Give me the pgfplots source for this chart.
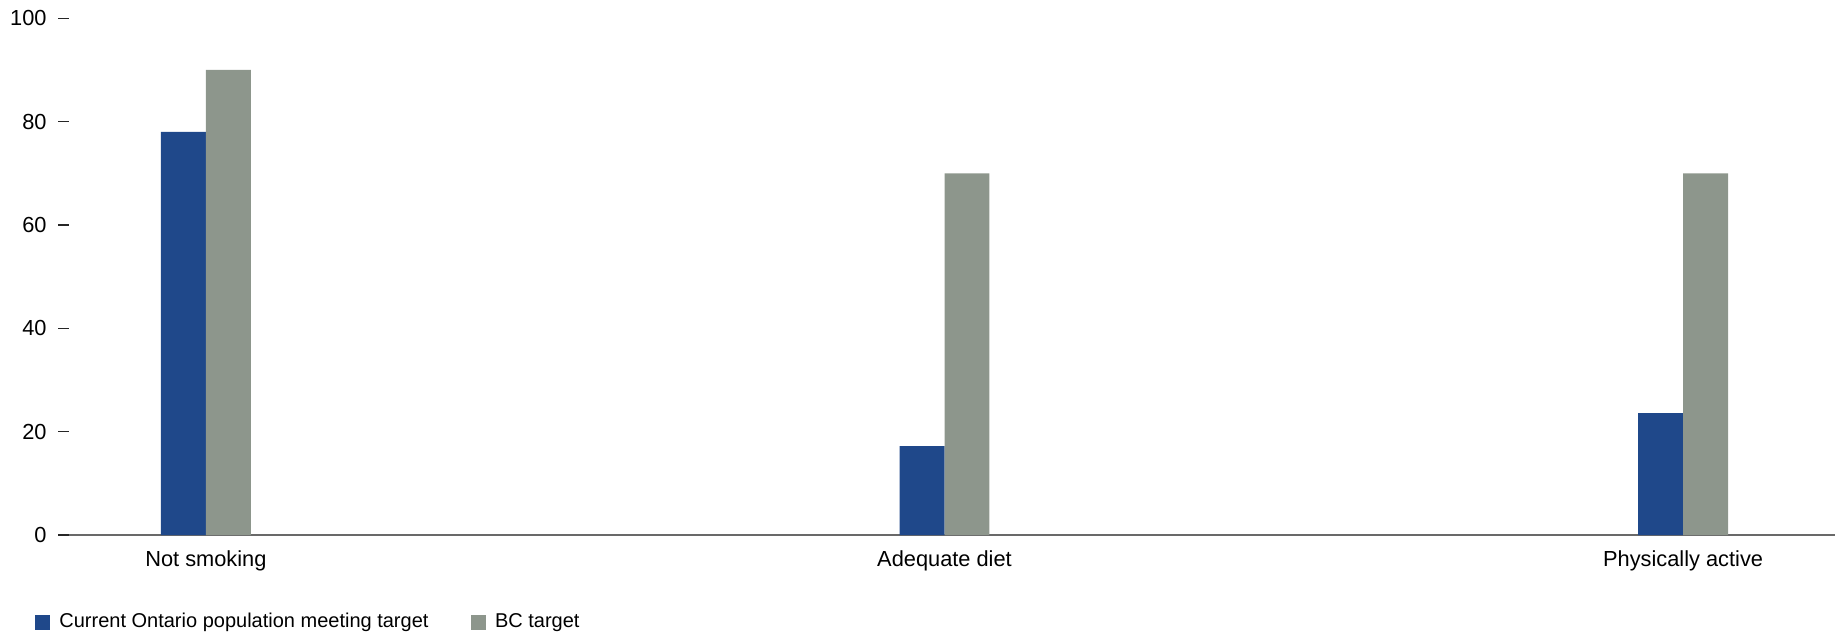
\documentclass[border=0pt]{standalone}
\usepackage{fontspec}
\setmainfont{Liberation Sans}
\usepackage{pgfplots}
\pgfplotsset{compat=1.18}
\definecolor{cblue}{RGB}{31,72,138}
\definecolor{cgray}{RGB}{141,150,140}
\definecolor{cgrid}{RGB}{205,205,205}
\definecolor{cbase}{RGB}{105,105,105}
\begin{document}
\fontsize{10.9}{12}\selectfont
\begin{tikzpicture}
\path[use as bounding box] (0,0) rectangle (919.5pt,317pt);
\begin{axis}[
  at={(34.5pt,49.5pt)}, anchor=south west,
  scale only axis, width=883pt, height=258.35pt,
  xmin=-0.1854, xmax=2.2057, ymin=0, ymax=100,
  xtick={0,1,2}, xticklabels={Not smoking,Adequate diet,Physically active},
  ytick={0,20,40,60,80,100},
  /pgf/number format/assume math mode=true,
  ymajorgrids, grid style={cgrid, line width=0.6pt},
  axis x line*=bottom, axis y line=none,
  x axis line style={cbase, line width=1pt, -},
  major x tick style={draw=none},
  font=\fontsize{10.9}{12}\selectfont,
  tick label style={font=\fontsize{10.9}{12}\selectfont},
  clip=false,
  ybar, bar width=0.0609,
  legend style={at={(-0.0193,-0.169)}, anchor=west, draw=none, fill=none,
    inner sep=0pt, outer sep=0pt, legend columns=-1,
    font=\fontsize{10}{12}\selectfont,
    /tikz/every odd column/.append style={column sep=2.75pt},
    /tikz/every even column/.append style={column sep=19pt}},
  legend image code/.code={\fill[#1] (0pt,-3.75pt) rectangle (7.5pt,3.75pt);},
  xticklabel style={anchor=north, inner sep=0pt, yshift=-3.2pt},
]
\addplot[fill=cblue, draw=none, bar shift=-0.03045] coordinates {(0,78) (1,17.2) (2,23.6)};
\addplot[fill=cgray, draw=none, bar shift=0.03045] coordinates {(0,90) (1,70) (2,70)};
\legend{Current Ontario population meeting target, BC target}
\end{axis}
\begin{axis}[
  at={(34.5pt,49.5pt)}, anchor=south west,
  scale only axis, width=883pt, height=258.35pt,
  xmin=0, xmax=1, ymin=0, ymax=100,
  axis x line=none, axis y line*=left,
  y axis line style={draw=none},
  ytick={0,20,40,60,80,100},
  tick align=outside, major tick length=5.5pt,
  tick style={black!85, line width=0.6pt},
  /pgf/number format/assume math mode=true,
  yticklabel style={anchor=east, inner sep=0pt, xshift=-5.5pt, font=\fontsize{10.9}{12}\selectfont},
]
\end{axis}
\end{tikzpicture}
\end{document}
